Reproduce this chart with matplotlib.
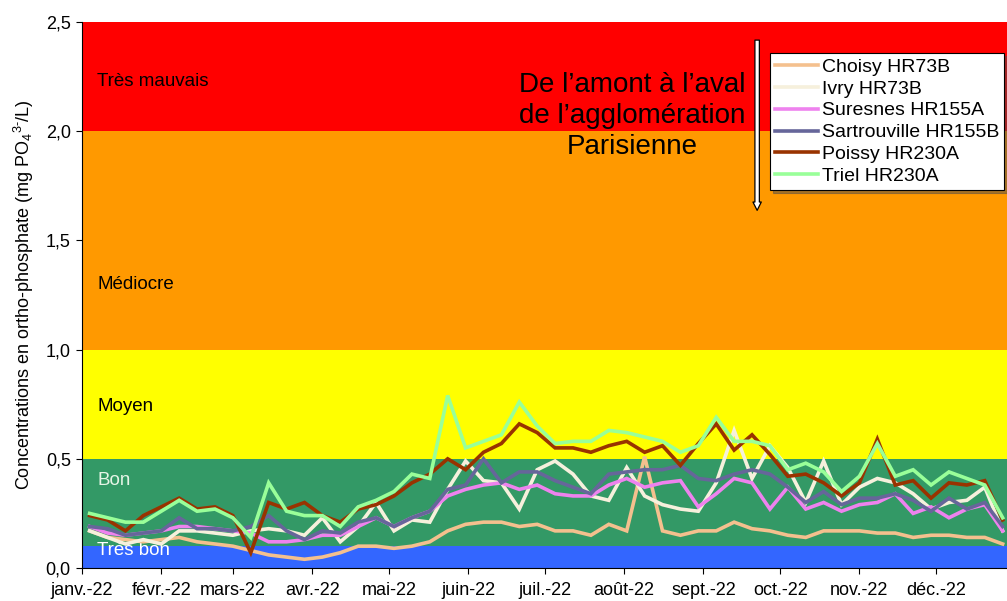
import numpy as np
import pandas as pd
import matplotlib
matplotlib.use("Agg")
import matplotlib.pyplot as plt
import matplotlib.dates as mdates
from matplotlib.ticker import FuncFormatter

plt.rcParams['font.family'] = ['Liberation Sans', 'DejaVu Sans']
plt.rcParams['mathtext.fontset'] = 'custom'
plt.rcParams['mathtext.rm'] = 'Liberation Sans'

# weekly samples, 2022
dates = pd.date_range("2022-01-04", periods=52, freq="7D")

choisy = [0.17, 0.14, 0.13, 0.12, 0.13, 0.14, 0.12, 0.11, 0.10, 0.08,
          0.06, 0.05, 0.04, 0.05, 0.07, 0.10, 0.10, 0.09, 0.10, 0.12,
          0.17, 0.20, 0.21, 0.21, 0.19, 0.20, 0.17, 0.17, 0.15, 0.20,
          0.17, 0.51, 0.17, 0.15, 0.17, 0.17, 0.21, 0.18, 0.17, 0.15,
          0.14, 0.17, 0.17, 0.17, 0.16, 0.16, 0.14, 0.15, 0.15, 0.14,
          0.14, 0.11]
ivry = [0.17, 0.14, 0.11, 0.13, 0.11, 0.17, 0.17, 0.16, 0.15, 0.17,
        0.18, 0.17, 0.15, 0.23, 0.12, 0.19, 0.30, 0.17, 0.22, 0.21,
        0.36, 0.49, 0.40, 0.39, 0.27, 0.45, 0.49, 0.43, 0.33, 0.31,
        0.46, 0.33, 0.29, 0.27, 0.26, 0.39, 0.63, 0.41, 0.56, 0.46,
        0.30, 0.49, 0.29, 0.37, 0.41, 0.39, 0.34, 0.27, 0.30, 0.31,
        0.37, 0.17]
suresnes = [0.19, 0.16, 0.15, 0.16, 0.17, 0.19, 0.19, 0.18, 0.17, 0.16,
            0.12, 0.12, 0.13, 0.15, 0.15, 0.19, 0.23, 0.19, 0.23, 0.26,
            0.33, 0.36, 0.38, 0.39, 0.36, 0.38, 0.34, 0.33, 0.33, 0.38,
            0.41, 0.37, 0.39, 0.40, 0.28, 0.34, 0.41, 0.39, 0.27, 0.37,
            0.27, 0.30, 0.26, 0.29, 0.30, 0.34, 0.25, 0.28, 0.23, 0.27,
            0.29, 0.17]
sartrouville = [0.19, 0.18, 0.15, 0.16, 0.17, 0.23, 0.18, 0.18, 0.17, 0.19,
                0.24, 0.17, 0.13, 0.17, 0.16, 0.21, 0.23, 0.19, 0.23, 0.26,
                0.36, 0.38, 0.50, 0.39, 0.44, 0.44, 0.40, 0.37, 0.34, 0.43,
                0.44, 0.45, 0.45, 0.47, 0.41, 0.40, 0.43, 0.45, 0.43, 0.37,
                0.30, 0.35, 0.29, 0.32, 0.32, 0.34, 0.31, 0.26, 0.32, 0.27,
                0.30, 0.19]
poissy = [0.24, 0.22, 0.17, 0.24, 0.28, 0.32, 0.27, 0.28, 0.24, 0.07,
          0.30, 0.27, 0.30, 0.24, 0.21, 0.27, 0.29, 0.33, 0.39, 0.43,
          0.50, 0.45, 0.53, 0.57, 0.66, 0.62, 0.55, 0.55, 0.53, 0.56,
          0.58, 0.53, 0.56, 0.47, 0.57, 0.66, 0.54, 0.61, 0.52, 0.42,
          0.43, 0.39, 0.33, 0.39, 0.59, 0.38, 0.40, 0.32, 0.39, 0.38,
          0.40, 0.22]
triel = [0.25, 0.23, 0.21, 0.21, 0.26, 0.31, 0.26, 0.27, 0.23, 0.14,
         0.39, 0.26, 0.24, 0.24, 0.19, 0.28, 0.31, 0.35, 0.43, 0.41,
         0.79, 0.55, 0.58, 0.61, 0.76, 0.65, 0.57, 0.58, 0.58, 0.63,
         0.62, 0.60, 0.58, 0.53, 0.56, 0.69, 0.58, 0.58, 0.56, 0.45,
         0.48, 0.44, 0.35, 0.42, 0.57, 0.42, 0.45, 0.38, 0.44, 0.41,
         0.38, 0.23]

series = [
    ("Choisy HR73B", choisy, "#f4c08e"),
    ("Ivry HR73B", ivry, "#f6f0dc"),
    ("Suresnes HR155A", suresnes, "#ee82ee"),
    ("Sartrouville HR155B", sartrouville, "#66669a"),
    ("Poissy HR230A", poissy, "#993300"),
    ("Triel HR230A", triel, "#99ff99"),
]

# quality classes
band_edges = [0.0, 0.1, 0.5, 1.0, 2.0, 2.5]
band_colors = ["#3366ff", "#339966", "#ffff00", "#ff9900", "#ff0000"]
band_labels = ["Très bon", "Bon", "Moyen", "Médiocre", "Très mauvais"]
band_label_y = [0.08, 0.40, 0.74, 1.30, 2.23]
band_label_colors = ["white", "#e6f5e6", "black", "black", "black"]

months = ["janv.-22", "févr.-22", "mars-22", "avr.-22", "mai-22", "juin-22",
          "juil.-22", "août-22", "sept.-22", "oct.-22", "nov.-22", "déc.-22"]

fig = plt.figure(figsize=(10.07, 6.01), dpi=100)
ax = fig.add_axes([0.0814, 0.0549, 0.9186, 0.9084])

x0 = mdates.date2num(pd.Timestamp("2022-01-01"))
x1 = x0 + 361.7
for lo, hi, c in zip(band_edges[:-1], band_edges[1:], band_colors):
    ax.axhspan(lo, hi, color=c, zorder=0, lw=0)
for lab, yy, c in zip(band_labels, band_label_y, band_label_colors):
    ax.text(x0 + 6, yy, lab, color=c, fontsize=13.5, va="center", ha="left", zorder=1)

for name, vals, col in series:
    ax.plot(dates, vals, color=col, lw=2.6, label=name, zorder=3,
            solid_joinstyle="miter")

ax.set_xlim(x0, x1)
ax.set_ylim(0, 2.5)
ax.set_yticks(np.arange(0, 2.51, 0.5))
ax.yaxis.set_major_formatter(FuncFormatter(lambda v, p: f"{v:.1f}".replace(".", ",")))
tick_pos = [mdates.date2num(pd.Timestamp(2022, m, 1)) for m in range(1, 13)]
ax.set_xticks(tick_pos)
ax.set_xticklabels(months)
ax.tick_params(axis="both", labelsize=13, direction="out", length=4, color="black")
ax.tick_params(axis="x", pad=6)
ax.tick_params(axis="y", pad=4)
ax.spines["top"].set_visible(False)
ax.spines["right"].set_visible(False)
ax.set_ylabel(r"Concentrations en ortho-phosphate (mg PO$_4$$^{3\text{-}}$/L)",
              fontsize=13, labelpad=7)

ax.text(x0 + 215, 2.07, "De l’amont à l’aval\nde l’agglomération\nParisienne",
        ha="center", va="center", fontsize=20, linespacing=1.27, zorder=4)

ax.annotate("", xy=(x0 + 264, 1.625), xytext=(x0 + 264, 2.43),
            arrowprops=dict(arrowstyle="simple,head_width=0.6,head_length=0.6,tail_width=0.32",
                            fc="white", ec="black", lw=0.9), zorder=4)

leg = ax.legend(loc="upper left", bbox_to_anchor=(0.744, 0.943), fontsize=14,
                frameon=True, fancybox=False, shadow=True, labelspacing=0.22,
                handlelength=2.2, handletextpad=0.2, borderpad=0.25,
                borderaxespad=0)
leg.get_frame().set_edgecolor("black")
leg.get_frame().set_linewidth(0.8)
leg.set_zorder(5)

fig.savefig("out.png", dpi=100)
